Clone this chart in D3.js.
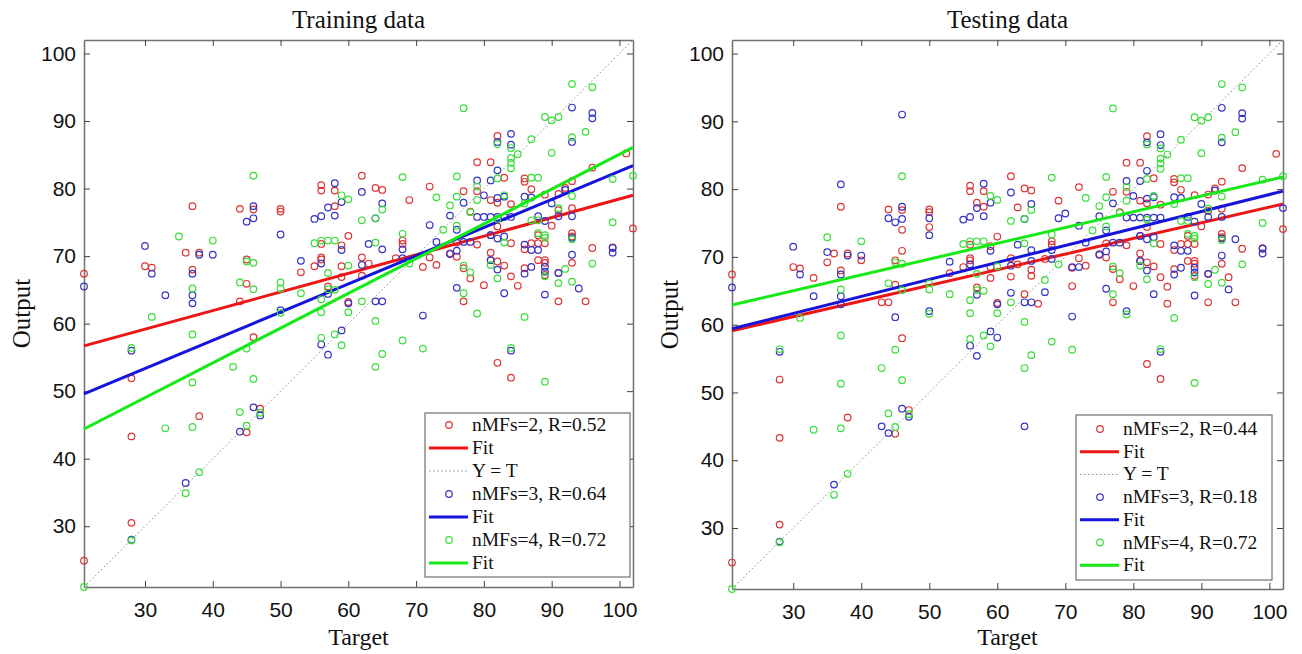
<!DOCTYPE html>
<html>
<head>
<meta charset="utf-8">
<script src="https://cdn.jsdelivr.net/npm/d3@7/dist/d3.min.js"></script>
<style>
    body { margin: 0; background: #fff; }
    .tick text { font-family: "Liberation Sans", Arial, sans-serif; font-size: 21px; fill: #111; }
    .serif { font-family: "Liberation Serif", "Times New Roman", serif; fill: #111; }
</style>
</head>
<body>
<div id="chart"></div>
<script>
// Target vs Output scatter, training and testing panels

const axisMin = 21, axisMax = 102;
const tickValues = [30, 40, 50, 60, 70, 80, 90, 100];
const fitX = [21, 102];

// points seen in both panels  [target, output]
const sharedRed = [
    [21,67.4],[21,24.9],[28,51.9],[28,43.3],[28,30.5],[30,68.5],[31,68.3],[36,70.5],[37,77.4],[38,70.5],
    [37,68],[38,46.3],[44,77],[45,69.5],[45,65.9],[44,63.3],[45,43.9],[46,76.9],[46,58],[47,47.4],
    [50,77],[50,76.6],[53,67.6],[55,68.5],[56,80.5],[56,79.7],[56,71.8],[56,69.8],[56,69.5],[57,65.5],
    [58,77.4],[58,79.7],[59,71.6],[59,68.5],[59,66.9],[60,63.2],[60,73],[62,81.9],[62,69.8],[62,67.1],
    [63,68.9],[64,80.1],[65,79.8],[67,69.7],[68,72.3],[68,71.8],[69,78.3],[71,68.4],[72,80.3],[72,69.8],
    [73,68.7],[75,70.4],[76,72],[76,69.9],[77,79.6],[77,68.2],[77,63.3],[78,76.6],[78,66.7],[79,83.9],
    [79,79.6],[79,71.7],[80,65.7],[81,83.9],[81,78.3],[81,73.1],[81,70.5],[81,69.4],[82,77.9],[82,74.4],
    [82,69.2],[82,87.8],[82,54.2],[83,81.6],[83,68.6],[84,77.7],[84,71.9],[84,67],[84,52],[85,65.6],
    [86,81.5],[86,81],[86,71],[86,68.2],[87,79.9],[87,71.9],[88,73.1],[88,71.9],[88,69.4],[89,79.1],
    [89,71.9],[89,69.4],[89,69],[89,67.2],[90,74.5],[91,79.2],[91,76.8],[91,67.5],[91,63.3],[92,80.1],
    [93,81.1],[93,77.1],[93,73.4],[93,72.9],[93,69],[95,63.3],[96,83.1],[96,71.2],[99,71.3],[101,85.2],
    [102,74.1]
];
const sharedBlue = [
    [21,65.5],[28,56],[28,28],[30,71.5],[31,67.4],[33,64.2],[36,36.4],[37,67.4],[37,64.2],[37,63],
    [38,70.2],[40,70.2],[44,44],[45,75.1],[46,77.4],[46,75.6],[46,47.6],[47,46.4],[50,73.2],[50,62],
    [53,69.3],[55,75.5],[56,75.9],[56,68.9],[56,56.9],[57,77.2],[57,64.4],[57,55.4],[58,80.8],[58,76],
    [59,78],[59,70.9],[59,59],[60,63],[62,79.5],[62,68.7],[63,71.8],[64,75.6],[64,63.3],[65,77.8],
    [65,71],[65,63.3],[68,71],[68,69.7],[71,61.2],[72,74.6],[73,72.1],[75,76],[75,70.3],[76,73.9],
    [76,70.8],[76,65.3],[77,77.9],[77,72.1],[78,72.1],[79,81.2],[79,75.8],[80,79],[80,75.8],[81,81.2],
    [81,75.8],[81,73.1],[81,69.4],[82,82.7],[82,78.6],[82,75.8],[82,72.6],[82,68],[82,86.9],[83,78.8],
    [83,75.8],[83,72.9],[83,64.5],[84,88.1],[84,86.5],[84,75.8],[84,56],[86,78.8],[86,71.7],[86,67.4],
    [87,78.7],[87,70.9],[87,68.4],[88,70.9],[88,75.9],[89,75.2],[89,68.4],[89,67.7],[89,64.3],[90,77.8],
    [91,75.9],[91,67.5],[92,79.8],[93,92],[93,86.9],[93,75.9],[93,72.7],[93,70.2],[94,65.2],[96,91.2],
    [96,90.4],[99,71.2],[99,70.5]
];
const sharedGreen = [
    [21,21],[28,56.4],[28,27.9],[31,61],[33,44.5],[35,72.9],[36,34.9],[37,65.2],[37,58.4],[37,51.3],
    [37,44.7],[38,38],[40,72.3],[43,53.6],[44,66.1],[44,46.9],[45,69.2],[45,56.3],[45,44.9],[46,81.9],
    [46,69],[46,65.1],[46,51.8],[47,46.8],[50,66.1],[50,65.2],[50,61.6],[53,64.5],[55,71.9],[56,72.3],
    [56,63.6],[56,61.7],[56,57.9],[57,72.3],[57,67.5],[57,65.1],[58,72.3],[58,65],[58,58.4],[59,79],
    [59,56.8],[60,78.4],[60,68.6],[60,61.7],[62,75.3],[62,63.3],[64,75.6],[64,72],[64,60.4],[64,53.6],
    [65,76.9],[65,55.5],[68,81.7],[68,73.3],[68,57.5],[69,68.9],[71,56.3],[73,78.7],[74,73.9],[75,77.5],
    [76,81.8],[76,78.8],[76,74.5],[77,91.9],[77,68.6],[77,64.5],[78,76.5],[78,67.6],[79,80.3],[79,78.3],
    [79,61.5],[81,68.7],[82,86.6],[82,81.5],[82,75.5],[82,66.7],[83,79],[83,72],[84,86],[84,84.5],
    [84,83.8],[84,83],[84,56.4],[85,85.1],[86,77.8],[86,61],[87,87.3],[87,81.6],[87,75.3],[88,81.6],
    [88,75.3],[88,73.4],[89,90.6],[89,73.1],[89,72.7],[89,67],[89,51.4],[90,90.1],[90,85.3],[91,90.6],
    [91,77.1],[91,66],[92,68.1],[93,95.5],[93,87.6],[93,78.9],[93,72.5],[93,66.2],[95,88.4],[96,95],
    [96,68.9],[99,81.4],[99,75],[102,81.9]
];

// extra points only in the testing panel
const testOnlyRed = [
    [46,74],[46,70.9],[50,74.4],[33,66.9],[35,69.2],[40,69.5],[43,63.3],[57,78],[63,77.3],[66,63.1],
    [64,64.5],[65,68.1],[65,67.2],[71,65.7],[94,67],[85,63.1]
];
const testOnlyBlue = [
    [46,91],[37,80.7],[64,45],[102,77.2],[69,75.7],[70,76.4],[35,70.7],[44,75.7],[45,61.1],[50,75.7],
    [62,64.7],[43,45],[60,58.1],[65,69.4],[71,68.5],[72,68.5],[67,64.8],[95,72.6],[79,62]
];
const testOnlyGreen = [[67,66.6]];

// fit lines: output at target 21 and 102
const trainFitRed = [56.7, 79.0];
const trainFitBlue = [49.6, 83.4];
const trainFitGreen = [44.4, 86.1];
const testFitRed = [59.1, 77.8];
const testFitBlue = [59.4, 79.7];
const testFitGreen = [62.9, 81.8];

const trainLegend = ['nMFs=2, R=0.52', 'Fit', 'Y = T', 'nMFs=3, R=0.64', 'Fit', 'nMFs=4, R=0.72', 'Fit'];
const testLegend = ['nMFs=2, R=0.44', 'Fit', 'Y = T', 'nMFs=3, R=0.18', 'Fit', 'nMFs=4, R=0.72', 'Fit'];

const colors = {
    red: { dot: '#dc3535', line: '#ee1515' },
    blue: { dot: '#3434c4', line: '#1414dc' },
    green: { dot: '#3ade3a', line: '#16ea16' }
};

const svg = d3.select('#chart').append('svg')
    .attr('width', 1302)
    .attr('height', 654);

function drawPanel(p) {
    const x = d3.scaleLinear().domain([axisMin, axisMax]).range([p.left, p.left + p.width]);
    const y = d3.scaleLinear().domain([axisMin, axisMax]).range([p.top + p.height, p.top]);
    const g = svg.append('g');

    // title and labels
    g.append('text').attr('class', 'serif')
        .attr('x', p.left + p.width / 2).attr('y', 28)
        .attr('text-anchor', 'middle').style('font-size', '25px')
        .text(p.title);
    g.append('text').attr('class', 'serif')
        .attr('x', p.left + p.width / 2).attr('y', 645)
        .attr('text-anchor', 'middle').style('font-size', '24px')
        .text('Target');
    g.append('text').attr('class', 'serif')
        .attr('transform', `translate(${p.left - 54}, ${p.top + p.height / 2}) rotate(-90)`)
        .attr('text-anchor', 'middle').style('font-size', '25px')
        .text('Output');

    // axes (inside ticks on all four sides)
    const bottom = h => h.attr('transform', `translate(0, ${p.top + p.height})`)
        .call(d3.axisBottom(x).tickValues(tickValues).tickSizeInner(-6).tickSizeOuter(0).tickPadding(15));
    const left = h => h.attr('transform', `translate(${p.left}, 0)`)
        .call(d3.axisLeft(y).tickValues(tickValues).tickSizeInner(-6).tickSizeOuter(0).tickPadding(8));
    const top = h => h.attr('transform', `translate(0, ${p.top})`)
        .call(d3.axisTop(x).tickValues(tickValues).tickSizeInner(-6).tickSizeOuter(0).tickFormat(''));
    const right = h => h.attr('transform', `translate(${p.left + p.width}, 0)`)
        .call(d3.axisRight(y).tickValues(tickValues).tickSizeInner(-6).tickSizeOuter(0).tickFormat(''));
    [bottom, left, top, right].forEach(f => {
        const a = g.append('g').call(f);
        a.select('.domain').attr('stroke', '#707070').attr('stroke-width', 1.5);
        a.selectAll('.tick line').attr('stroke', '#404040');
    });

    const line = d3.line().x(d => x(d[0])).y(d => y(d[1]));
    const dots = (pts, c) => g.append('g').selectAll('circle')
        .data(pts).enter().append('circle')
        .attr('cx', d => x(d[0])).attr('cy', d => y(d[1]))
        .attr('r', 3.3).attr('fill', 'none')
        .attr('stroke', c).attr('stroke-width', 1.2);
    const fit = (ends, c) => g.append('path')
        .attr('d', line(fitX.map((v, i) => [v, ends[i]])))
        .attr('fill', 'none').attr('stroke', c).attr('stroke-width', 3);

    dots(p.red, colors.red.dot);
    fit(p.fitRed, colors.red.line);
    g.append('path').attr('d', line([[axisMin, axisMin], [axisMax, axisMax]]))
        .attr('fill', 'none').attr('stroke', '#8a8a8a').attr('stroke-width', 1)
        .attr('stroke-dasharray', '1.5,2.5');
    dots(p.blue, colors.blue.dot);
    fit(p.fitBlue, colors.blue.line);
    dots(p.green, colors.green.dot);
    fit(p.fitGreen, colors.green.line);

    // legend
    const lg = p.legend;
    g.append('rect')
        .attr('x', lg.x).attr('y', lg.y).attr('width', lg.w).attr('height', lg.h)
        .attr('fill', '#fff').attr('stroke', '#707070').attr('stroke-width', 1.2);
    const kinds = [
        ['dot', colors.red.dot], ['line', colors.red.line], ['dotted', '#8a8a8a'],
        ['dot', colors.blue.dot], ['line', colors.blue.line],
        ['dot', colors.green.dot], ['line', colors.green.line]
    ];
    p.legendLabels.forEach((label, i) => {
        const cy = lg.firstRow + i * lg.step;
        const [kind, c] = kinds[i];
        if (kind === 'dot') {
            g.append('circle').attr('cx', lg.x + 24).attr('cy', cy).attr('r', 3.3)
                .attr('fill', 'none').attr('stroke', c).attr('stroke-width', 1.2);
        } else {
            g.append('line').attr('x1', lg.x + 4).attr('x2', lg.x + 43)
                .attr('y1', cy).attr('y2', cy).attr('stroke', c)
                .attr('stroke-width', kind === 'line' ? 3 : 1)
                .attr('stroke-dasharray', kind === 'dotted' ? '1.5,2.5' : null);
        }
        g.append('text').attr('class', 'serif')
            .attr('x', lg.x + 47).attr('y', cy + 6)
            .style('font-size', '19.5px')
            .text(label);
    });
}

drawPanel({
    title: 'Training data',
    left: 84, top: 40, width: 549, height: 547,
    red: sharedRed, blue: sharedBlue, green: sharedGreen,
    fitRed: trainFitRed, fitBlue: trainFitBlue, fitGreen: trainFitGreen,
    legendLabels: trainLegend,
    legend: { x: 425, y: 413, w: 205, h: 164, firstRow: 425, step: 23 }
});

drawPanel({
    title: 'Testing data',
    left: 732, top: 40, width: 551, height: 549,
    red: sharedRed.concat(testOnlyRed),
    blue: sharedBlue.concat(testOnlyBlue),
    green: sharedGreen.concat(testOnlyGreen),
    fitRed: testFitRed, fitBlue: testFitBlue, fitGreen: testFitGreen,
    legendLabels: testLegend,
    legend: { x: 1076, y: 415, w: 196, h: 165, firstRow: 429, step: 22.7 }
});
</script>
</body>
</html>
